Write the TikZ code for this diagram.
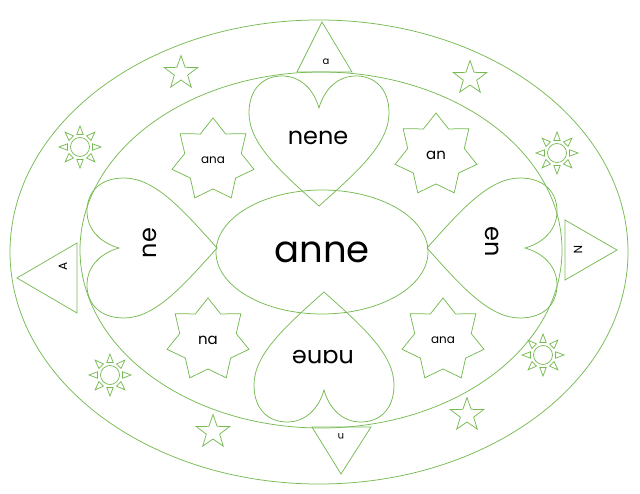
\documentclass[tikz,border=0pt]{standalone}
\usepackage{fontspec}
\setmainfont{Poppins}
\usetikzlibrary{shapes.geometric}
\definecolor{lg}{RGB}{118,186,82}
\begin{document}
\begin{tikzpicture}[x=1pt,y=1pt,
  gline/.style={draw=lg, line width=0.75pt},
  lbl/.style={text=black, inner sep=0pt},
  fbig/.style={font=\fontsize{37}{40}\selectfont},
  fheart/.style={font=\fontsize{24}{28}\selectfont},
  fmid/.style={font=\fontsize{15}{18}\selectfont},
  fsmall/.style={font=\fontsize{12}{14}\selectfont},
  ftiny/.style={font=\fontsize{10}{12}\selectfont},
  fivestar/.style={gline, star, star points=5, star point ratio=2.5, minimum size=35pt, inner sep=0pt},
  sevenstar/.style={gline, star, star points=7, star point ratio=1.45, minimum size=84pt, inner sep=0pt},
  ringshape/.style={gline, ellipse, inner sep=0pt},
  sunpic/.pic={\draw[gline] (0,0) circle (9.5);
    \foreach \a in {0,45,...,315} {\draw[gline, rotate=\a] (12.5,3.2) -- (12.5,-3.2) -- (21,0) -- cycle;}},
  heartpic/.pic={\draw[gline] (0,0) .. controls (-38,34) and (-70,62) .. (-70,93)
      .. controls (-70,118) and (-55,130) .. (-37,130)
      .. controls (-18,130) and (-5,116) .. (0,98)
      .. controls (5,116) and (18,130) .. (37,130)
      .. controls (55,130) and (70,118) .. (70,93)
      .. controls (70,62) and (38,34) .. (0,0) -- cycle;}
]
\useasboundingbox (0,0) rectangle (640,493);
% rings
\node[ringshape, minimum width=618pt, minimum height=464pt] (outer) at (319,241) {};
\node[ringshape, minimum width=482pt, minimum height=356pt] (inner) at (321,243) {};
% hearts
\pic (htop) at (319,287) {heartpic};
\pic[rotate=180] (hbot) at (324,201) {heartpic};
\pic[rotate=90] (hleft) at (217,245) {heartpic};
\pic[rotate=-90] (hright) at (427,245) {heartpic};
% centre
\node[ringshape, minimum width=212pt, minimum height=124pt, lbl, fbig] (ctr) at (322,241) {anne};
% heart texts
\node[lbl, fheart] (tnene) at (318,355) {nene};
\node[lbl, fheart, rotate=180] (tnane) at (323,136) {nane};
\node[lbl, fheart, rotate=90] (tne) at (150,250) {ne};
\node[lbl, fheart, rotate=-90] (ten) at (492,251) {en};
% seven-pointed stars
\node[sevenstar, lbl, fsmall] (s1) at (213,333) {ana};
\node[sevenstar, lbl, fmid] (s2) at (436,338) {an};
\node[sevenstar, lbl, fmid] (s3) at (208,153) {na};
\node[sevenstar, lbl, fsmall] (s4) at (443,153) {ana};
% five-pointed stars
\node[fivestar] (f1) at (181,420) {};
\node[fivestar] (f2) at (470,415) {};
\node[fivestar] (f3) at (213,61) {};
\node[fivestar] (f4) at (467,78) {};
% suns
\pic (sun1) at (80,346) {sunpic};
\pic (sun2) at (557,340) {sunpic};
\pic (sun3) at (110,118) {sunpic};
\pic (sun4) at (543,138) {sunpic};
% triangles
\draw[gline] (322,471) -- (352,421) -- (297,421) -- cycle;
\draw[gline] (341,19) -- (371,66) -- (312,66) -- cycle;
\draw[gline] (17,215) -- (77,250) -- (77,180) -- cycle;
\draw[gline] (617,243) -- (565,273) -- (565,213) -- cycle;
\node[lbl, ftiny] (la) at (326,431) {a};
\node[lbl, ftiny, rotate=180] (ln) at (341,57) {n};
\node[lbl, fsmall, rotate=90] (lA) at (63,227) {A};
\node[lbl, fsmall, rotate=-90] (lN) at (578,243) {N};
\end{tikzpicture}
\end{document}
